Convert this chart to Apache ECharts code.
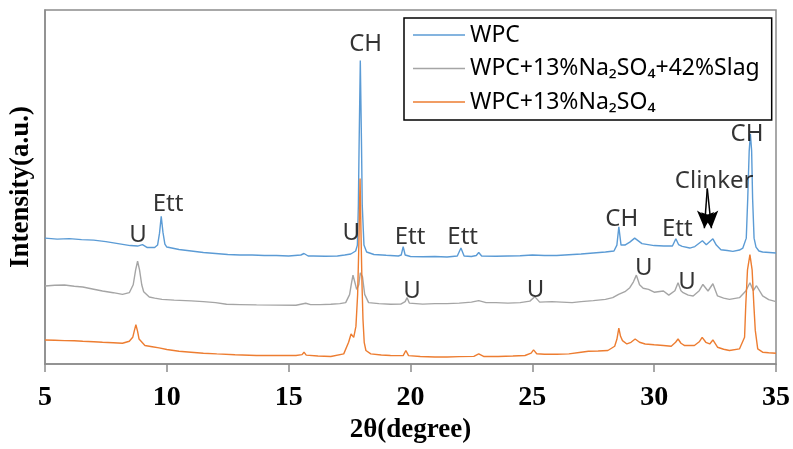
<!DOCTYPE html>
<html>
<head>
<meta charset="utf-8">
<script src="https://cdn.jsdelivr.net/npm/echarts@6/dist/echarts.min.js"></script>
<style>
html,body{margin:0;padding:0;background:#fff;}
#chart{width:793px;height:449px;}
</style>
</head>
<body>
<div id="chart"></div>
<script>
// x-axis ticks (2θ, degree)
const xTicks = [5, 10, 15, 20, 25, 30, 35];
const seriesNames = ['WPC', 'WPC+13%Na₂SO₄+42%Slag', 'WPC+13%Na₂SO₄'];

// [2θ, intensity (a.u., stacked offset as drawn)]
const wpc = [[5.0,127],[5.5,126],[6.0,126.5],[6.5,125.5],[7.0,125],[7.5,123.5],[8.0,121.5],[8.5,119.5],[8.8,119],[9.0,120.5],[9.2,117.5],[9.5,117.5],[9.62,120],[9.7,132],[9.77,149],[9.84,133],[9.92,121],[10.0,118],[10.5,115.5],[11.0,114],[11.5,112.5],[12.0,111.5],[12.5,110.5],[13.0,110],[13.5,110],[14.0,109.5],[14.5,109.5],[15.0,109],[15.5,110],[15.63,111.5],[15.8,109],[16.0,109],[16.5,108.7],[17.0,109],[17.3,110],[17.55,111],[17.75,114],[17.82,120],[17.86,160],[17.89,220],[17.94,306],[17.99,220],[18.02,160],[18.09,120],[18.2,113],[18.5,110.5],[19.0,109.7],[19.5,109],[19.62,110],[19.7,118.5],[19.78,110],[20.0,108.5],[20.5,108.3],[21.0,108.5],[21.5,108],[21.92,109],[22.07,117],[22.2,109],[22.5,108.5],[22.7,109.5],[22.8,112.5],[22.92,109],[23.5,108.7],[24.0,109],[24.5,109.3],[25.0,110],[25.5,109.5],[26.0,109.5],[26.5,110.3],[27.0,111],[27.5,112],[28.0,113],[28.35,114],[28.47,120],[28.55,138.5],[28.64,120],[28.8,120],[29.0,123],[29.2,127],[29.5,121.5],[30.0,119.5],[30.4,119],[30.75,119],[30.89,126.3],[31.0,120.5],[31.15,118.7],[31.46,117],[31.67,118.5],[31.98,124.3],[32.14,120.3],[32.41,126.3],[32.55,120],[32.74,115.3],[33.0,114.5],[33.23,113.7],[33.5,115],[33.64,117],[33.78,127],[33.84,167],[33.9,215],[33.95,232],[34.0,215],[34.04,167],[34.1,127],[34.18,118],[34.3,114],[34.45,113],[35.0,112]];

const wpcSlag = [[5.0,78.7],[5.4,79.5],[5.8,79.7],[6.2,78.5],[6.55,77.7],[7.0,75.5],[7.36,73.7],[7.8,72],[8.18,70.3],[8.46,72],[8.62,80],[8.72,95],[8.8,103.7],[8.88,95],[8.97,80],[9.05,73],[9.28,67.7],[9.5,66.5],[9.8,65.3],[10.3,64.5],[11.0,63.7],[11.5,63],[12.0,62],[12.45,60.3],[13.0,60],[13.68,59.7],[14.5,59.5],[15.3,59.3],[15.7,61.3],[15.9,60],[16.3,60],[16.73,60.3],[17.1,61],[17.34,62],[17.5,70],[17.58,82],[17.64,89.7],[17.7,84],[17.79,75.3],[17.88,80],[17.94,92],[17.98,93.7],[18.03,88],[18.12,70.3],[18.28,62],[18.7,61],[19.18,60.3],[19.6,60.5],[19.78,63],[19.86,67],[19.95,61.5],[20.5,60.5],[21.0,61],[21.5,61],[22.0,61.5],[22.5,62.5],[22.8,64],[23.1,62],[23.5,62],[24.0,61.5],[24.5,62],[24.9,63.5],[25.1,68],[25.3,62.5],[25.8,63],[26.2,62.5],[26.63,62],[27.0,63],[27.5,64],[28.0,65.3],[28.3,67],[28.54,70.3],[28.8,73],[29.0,77],[29.15,83],[29.27,89.7],[29.4,80],[29.55,76.5],[29.77,75.3],[30.0,72.5],[30.38,73.7],[30.6,69.5],[30.85,74],[30.98,82],[31.1,74],[31.19,72],[31.4,69.5],[31.6,68.7],[31.85,74],[32.0,80.3],[32.21,73.7],[32.41,81],[32.6,68.7],[32.85,66.5],[33.09,65.3],[33.5,67],[33.76,73.7],[33.93,82],[34.07,74],[34.2,79],[34.45,68.7],[34.7,65],[35.0,63]];

const wpcNa = [[5.0,24.3],[5.4,24],[5.8,23.7],[6.2,23.5],[6.55,23],[7.0,22.5],[7.36,22],[7.8,21.5],[8.18,21],[8.46,23],[8.6,27],[8.67,34],[8.73,39.7],[8.8,33],[8.86,25.3],[9.1,18.7],[9.4,17.5],[9.68,16.3],[10.0,14.7],[10.5,13],[10.99,12],[11.5,11],[12.05,10.3],[12.8,9.5],[13.68,8.7],[14.5,8.7],[15.3,8.7],[15.55,9.5],[15.63,12],[15.72,9],[16.2,8.2],[16.73,7.7],[17.26,10.3],[17.46,22],[17.56,30.3],[17.67,27],[17.76,38],[17.83,70],[17.88,120],[17.93,187],[17.97,130],[18.01,80],[18.05,45],[18.1,22],[18.17,13.7],[18.37,10.3],[18.8,9.2],[19.18,8.7],[19.7,8.5],[19.81,13.7],[19.92,8.5],[20.4,7.7],[21.0,7.2],[21.5,7.2],[22.0,7.5],[22.6,7.8],[22.8,10.3],[23.0,7.7],[23.6,7.7],[24.2,8.2],[24.7,8.7],[24.95,11],[25.05,14.3],[25.18,10.5],[25.5,10],[26.0,10],[26.5,10.3],[27.0,12],[27.3,13],[27.7,13.2],[28.1,13.7],[28.38,18],[28.47,25],[28.55,36.3],[28.62,28],[28.7,23.7],[28.88,20.3],[29.05,22],[29.22,25.3],[29.4,22],[29.63,20.3],[30.0,19.5],[30.38,18.7],[30.7,18],[30.88,22],[30.98,25.3],[31.1,21],[31.25,18.7],[31.65,18.7],[31.85,22.5],[31.97,27],[32.12,22],[32.28,20.3],[32.41,24.3],[32.6,17],[32.85,15],[33.09,13.7],[33.5,15.3],[33.71,27],[33.76,60],[33.83,95],[33.93,110.3],[34.02,95],[34.09,60],[34.15,34],[34.25,15.3],[34.45,12],[34.7,11.5],[35.0,11]];

// peak annotations: [text, 2θ, intensity]
const annotations = [
  ['CH', 18.16, 323], ['Ett', 10.05, 161], ['U', 8.82, 130], ['U', 17.57, 132.5],
  ['Ett', 19.98, 127.5], ['Ett', 22.14, 127.5], ['U', 20.06, 73.7], ['U', 25.13, 74.8],
  ['CH', 28.67, 146.5], ['U', 29.57, 97], ['Ett', 30.95, 136.2], ['U', 31.35, 82.8],
  ['Clinker', 32.46, 184], ['CH', 33.81, 232]
];
// arrows from "Clinker": [start 2θ, start I, end 2θ, end I]
const clinkerArrows = [[32.18, 177, 32.06, 137], [32.18, 177, 32.35, 137]];

const colors = ['#5b9bd5', '#a5a5a5', '#ed7d31'];
const chart = echarts.init(document.getElementById('chart'), null, {renderer: 'canvas'});

function lineSeries(name, data, color) {
  return {
    name: name, type: 'line', data: data, symbol: 'none', showSymbol: false,
    lineStyle: {color: color, width: 1.4}, itemStyle: {color: color},
    animation: false, z: 3
  };
}

const option = {
  animation: false,
  backgroundColor: '#fff',
  grid: {left: 42, right: 15, top: 10, bottom: 82, show: true, borderColor: '#8c8c8c', borderWidth: 1.5},
  legend: {
    data: seriesNames.map(n => ({name: n, icon: 'rect'})),
    orient: 'vertical',
    left: 404, top: 18,
    padding: [4, 12, 5, 9],
    itemWidth: 52, itemHeight: 1.5, itemGap: 7.5,
    borderColor: '#000', borderWidth: 1.5, borderRadius: 0,
    backgroundColor: '#fff',
    textStyle: {fontFamily: 'Noto Sans', fontSize: 23, color: '#000', lineHeight: 26}
  },
  xAxis: {
    type: 'value', min: xTicks[0], max: xTicks[xTicks.length - 1], interval: 5,
    axisLine: {show: true, lineStyle: {color: '#8c8c8c', width: 1.5}},
    axisTick: {show: true, length: 8, lineStyle: {color: '#8c8c8c', width: 1.5}},
    splitLine: {show: false},
    axisLabel: {fontFamily: 'Liberation Serif', fontWeight: 'bold', fontSize: 28, color: '#000', margin: 20},
    name: '2θ(degree)', nameLocation: 'middle', nameGap: 52,
    nameTextStyle: {fontFamily: 'Liberation Serif', fontWeight: 'bold', fontSize: 27, color: '#000'}
  },
  yAxis: {
    type: 'value', min: 0, max: 357,
    axisLine: {show: true, lineStyle: {color: '#8c8c8c', width: 1.5}},
    axisTick: {show: false}, axisLabel: {show: false}, splitLine: {show: false},
    name: 'Intensity(a.u.)', nameLocation: 'middle', nameGap: 10, nameRotate: 90,
    nameTextStyle: {fontFamily: 'Liberation Serif', fontWeight: 'bold', fontSize: 27, color: '#000'}
  },
  series: [
    lineSeries(seriesNames[0], wpc, colors[0]),
    lineSeries(seriesNames[1], wpcSlag, colors[1]),
    lineSeries(seriesNames[2], wpcNa, colors[2]),
    {
      name: 'labels', type: 'scatter', symbolSize: 0, silent: true, z: 5,
      data: annotations.map(a => ({name: a[0], value: [a[1], a[2]]})),
      label: {show: true, position: 'inside', formatter: p => p.name,
        fontFamily: 'Noto Sans', fontSize: 24, color: '#000'},
      markLine: {
        silent: true, symbol: ['none', 'arrow'], symbolSize: [13, 17],
        lineStyle: {color: '#000', width: 1.5, type: 'solid'},
        label: {show: false},
        data: clinkerArrows.map(a => [{coord: [a[0], a[1]]}, {coord: [a[2], a[3]]}])
      }
    }
  ]
};
chart.setOption(option);
</script>
</body>
</html>
